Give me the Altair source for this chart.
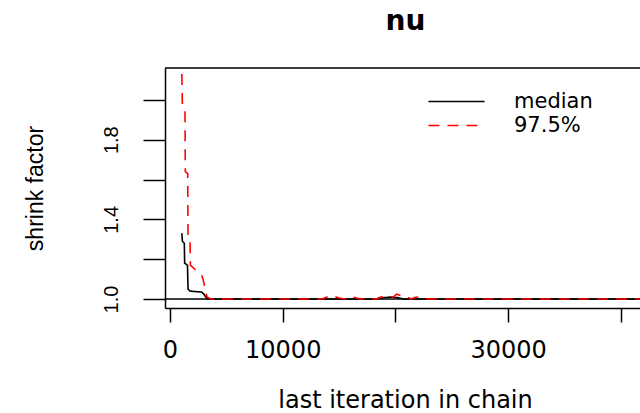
import altair as alt
import pandas as pd

# ---- data (iteration, shrink factor) ----
median_iter = [1050, 1100, 1270, 1300, 1550, 1600, 1780, 2800, 3000, 3300, 18400, 19000, 19600, 20200, 20700, 45000]
median_val  = [1.33, 1.29, 1.28, 1.18, 1.17, 1.05, 1.04, 1.035, 1.025, 1.0, 1.0, 1.007, 1.01, 1.007, 1.0, 1.0]

q975_iter = [1050, 1100, 1330, 1360, 1570, 1600, 1780, 1810, 2480, 2840, 2930, 3280, 3600,
             13500, 14000, 14500, 15000, 15500, 15900, 16400, 16800, 18300, 18700, 19300,
             19800, 20100, 20600, 21000, 21400, 21700, 22300, 22800, 45000]
q975_val  = [2.13, 1.97, 1.95, 1.64, 1.63, 1.30, 1.29, 1.17, 1.135, 1.115, 1.10, 1.01, 1.0,
             1.0, 1.012, 1.015, 1.005, 1.0, 1.01, 1.008, 1.0, 1.0, 1.01, 1.015,
             1.01, 1.025, 1.015, 1.012, 1.0, 1.008, 1.012, 1.0, 1.0]

series_names = ["median", "97.5%"]
series_colors = ["black", "red"]
series_dash = [[1, 0], [11, 8]]

x_ticks = [0, 10000, 20000, 30000, 40000]
y_ticks = [1.0, 1.2, 1.4, 1.6, 1.8, 2.0]
x_domain = [-443, 41690]
y_domain = [0.955, 2.16]

df = pd.concat([
    pd.DataFrame({"iter": median_iter, "val": median_val, "series": "median", "order": range(len(median_iter))}),
    pd.DataFrame({"iter": q975_iter, "val": q975_val, "series": "97.5%", "order": range(len(q975_iter))}),
])

W, H = 475, 240

legend = alt.Legend(
    title=None, orient="none", legendX=281, legendY=23,
    symbolType="M-3,0H3", symbolSize=350, symbolStrokeWidth=1.6,
    labelFont="DejaVu Sans", labelFontSize=21, labelOffset=47,
    rowPadding=2, padding=0, labelColor="black",
)

xscale = alt.Scale(domain=x_domain, nice=False, zero=False)
yscale = alt.Scale(domain=y_domain, nice=False, zero=False)

xaxis = alt.Axis(
    values=x_ticks, grid=False, domain=True, domainColor="black", domainWidth=1.5,
    ticks=True, tickColor="black", tickWidth=1.5, tickSize=14,
    labelExpr="datum.value == 20000 || datum.value == 40000 ? '' : format(datum.value, 'd')",
    labelFont="DejaVu Sans", labelFontSize=24, labelColor="black",
    labelBaseline="middle", labelPadding=28, labelFlush=False, labelOverlap=False,
    title="last iteration in chain", titleFont="DejaVu Sans", titleFontSize=24,
    titleFontWeight="normal", titleColor="black",
    titleX=240, titleY=92, titleAlign="center", titleBaseline="middle",
)
yaxis = alt.Axis(
    values=y_ticks, grid=False, domain=True, domainColor="black", domainWidth=1.5,
    ticks=True, tickColor="black", tickWidth=1.5, tickSize=22,
    labelExpr="round(datum.value*10) % 4 == 2 ? format(datum.value, '.1f') : ''",
    labelFont="Liberation Sans", labelFontSize=20, labelColor="black",
    labelAngle=270, labelAlign="center", labelBaseline="bottom",
    labelPadding=22, labelFlush=False, labelOverlap=False,
    title="shrink factor", titleFont="Liberation Sans", titleFontSize=23,
    titleFontWeight="normal", titleColor="black",
    titleAngle=270, titleX=-130, titleY=120, titleAlign="center", titleBaseline="middle",
)

lines = alt.Chart(df).mark_line(clip=True, strokeWidth=1.6).encode(
    x=alt.X("iter:Q", scale=xscale, axis=xaxis),
    y=alt.Y("val:Q", scale=yscale, axis=yaxis),
    color=alt.Color("series:N", scale=alt.Scale(domain=series_names, range=series_colors), legend=legend),
    strokeDash=alt.StrokeDash("series:N", scale=alt.Scale(domain=series_names, range=series_dash), legend=legend),
    order="order:Q",
)

hline = alt.Chart(pd.DataFrame({"h": [1.0]})).mark_rule(color="black", strokeWidth=1.5).encode(
    y=alt.Y("h:Q", scale=yscale)
)

top_border = alt.Chart(pd.DataFrame({"a": [0]})).mark_rule(color="black", strokeWidth=1.5).encode(
    x=alt.value(0), x2=alt.value(W), y=alt.value(0)
)

chart = alt.layer(hline, lines, top_border).properties(
    width=W, height=H,
    autosize=alt.AutoSizeParams(type="none"),
    padding={"left": 165, "top": 68, "right": 0, "bottom": 105},
    title=alt.TitleParams("nu", font="DejaVu Sans", fontSize=28, fontWeight="bold",
                          color="black", anchor="middle", baseline="alphabetic", offset=9, dx=3),
).configure_view(stroke=None).configure(background="white")

chart.save("out.html", embed_options={"renderer": "svg", "actions": False})
